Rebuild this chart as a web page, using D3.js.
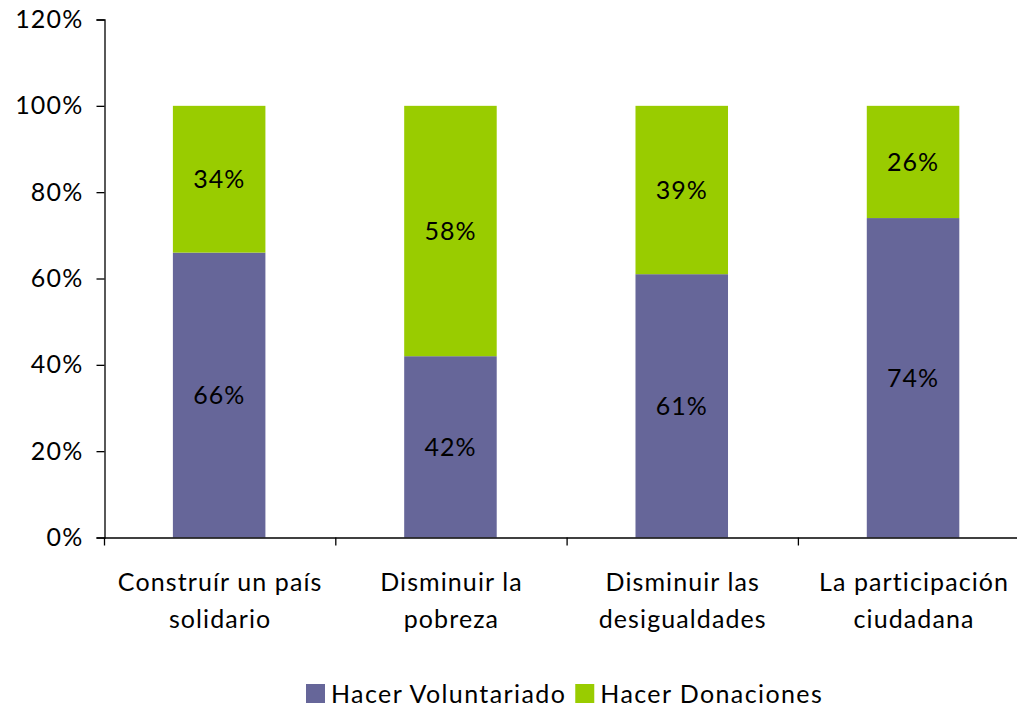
<!DOCTYPE html>
<html>
<head>
<meta charset="utf-8">
<script src="https://cdn.jsdelivr.net/npm/d3@7"></script>
<style>
  body { margin: 0; background: #fff; }
  svg { display: block; font-family: Lato, "Open Sans", sans-serif; }
</style>
</head>
<body>
<svg id="chart" width="1017" height="710"></svg>
<script>
const categories = [["Construír un país", "solidario"], ["Disminuir la", "pobreza"], ["Disminuir las", "desigualdades"], ["La participación", "ciudadana"]];
const voluntariado = [66, 42, 61, 74];
const donaciones = [34, 58, 39, 26];
const seriesNames = ["Hacer Voluntariado", "Hacer Donaciones"];
const seriesColors = ["#666699", "#99CC00"];
const yTicks = [0, 20, 40, 60, 80, 100, 120];

const svg = d3.select("#chart");
const x0 = 104.5, x1 = 1029.7, yBottom = 537.5, yTop = 19.5;
const FS = 25;

const x = d3.scaleBand().domain(d3.range(categories.length)).range([x0, x1]).paddingInner(0).paddingOuter(0);
const y = d3.scaleLinear().domain([0, 120]).range([yBottom, yTop]);

const barW = x.bandwidth() * 0.4;

// y axis
const yAxis = d3.axisLeft(y).tickValues(yTicks).tickFormat(d => d + "%").tickSizeOuter(0).tickSize(8).tickPadding(13);
const gy = svg.append("g").attr("transform", `translate(${x0},0)`).call(yAxis);
gy.select(".domain").attr("stroke", "#000").attr("stroke-width", 1.3);
gy.selectAll(".tick line").attr("stroke", "#000").attr("stroke-width", 1.3);
gy.selectAll(".tick text").attr("font-size", FS).attr("fill", "#000")
  .attr("font-family", "Lato, sans-serif").attr("letter-spacing", 1.2);

// bars
const stackData = categories.map((c, i) => ({ i, v: voluntariado[i], d: donaciones[i] }));
const g = svg.append("g");
stackData.forEach(s => {
  const cx = x(s.i) + x.bandwidth() / 2 - 1;
  g.append("rect").attr("x", cx - barW / 2).attr("width", barW)
    .attr("y", y(s.v)).attr("height", y(0) - y(s.v)).attr("fill", seriesColors[0]);
  g.append("rect").attr("x", cx - barW / 2).attr("width", barW)
    .attr("y", y(s.v + s.d)).attr("height", y(s.v) - y(s.v + s.d)).attr("fill", seriesColors[1]);
  g.append("text").attr("x", cx).attr("y", y(s.v / 2)).attr("dy", "0.35em")
    .attr("text-anchor", "middle").attr("font-size", FS).attr("letter-spacing", 1).attr("fill", "#000").text(s.v + "%");
  g.append("text").attr("x", cx).attr("y", y(s.v + s.d / 2)).attr("dy", "0.35em")
    .attr("text-anchor", "middle").attr("font-size", FS).attr("letter-spacing", 1).attr("fill", "#000").text(s.d + "%");
});

// x axis
const xAxis = d3.axisBottom(x).tickSize(0).tickFormat("");
const gx = svg.append("g").attr("transform", `translate(0,${yBottom})`).call(xAxis);
gx.select(".domain").attr("stroke", "#000").attr("stroke-width", 1.3);
const bounds = d3.range(categories.length + 1).map(i => x0 + i * x.bandwidth());
gx.selectAll(".bound").data(bounds).enter().append("line")
  .attr("x1", d => d).attr("x2", d => d).attr("y1", 0).attr("y2", 8)
  .attr("stroke", "#000").attr("stroke-width", 1.3);

// category labels
categories.forEach((lines, i) => {
  const cx = x(i) + x.bandwidth() / 2;
  const t = svg.append("text").attr("text-anchor", "middle").attr("font-size", FS)
    .attr("letter-spacing", 1.1).attr("fill", "#000");
  lines.forEach((l, k) => {
    t.append("tspan").attr("x", cx).attr("y", 591 + k * 37).text(l);
  });
});

// legend
const legend = svg.append("g");
let lx = 306;
seriesNames.forEach((n, i) => {
  legend.append("rect").attr("x", lx).attr("y", 684).attr("width", 19).attr("height", 19).attr("fill", seriesColors[i]);
  const t = legend.append("text").attr("x", lx + 25).attr("y", 703).attr("font-size", FS)
    .attr("letter-spacing", 1.4).attr("fill", "#000").text(n);
  lx += 25 + t.node().getComputedTextLength() + 9;
});
</script>
</body>
</html>
